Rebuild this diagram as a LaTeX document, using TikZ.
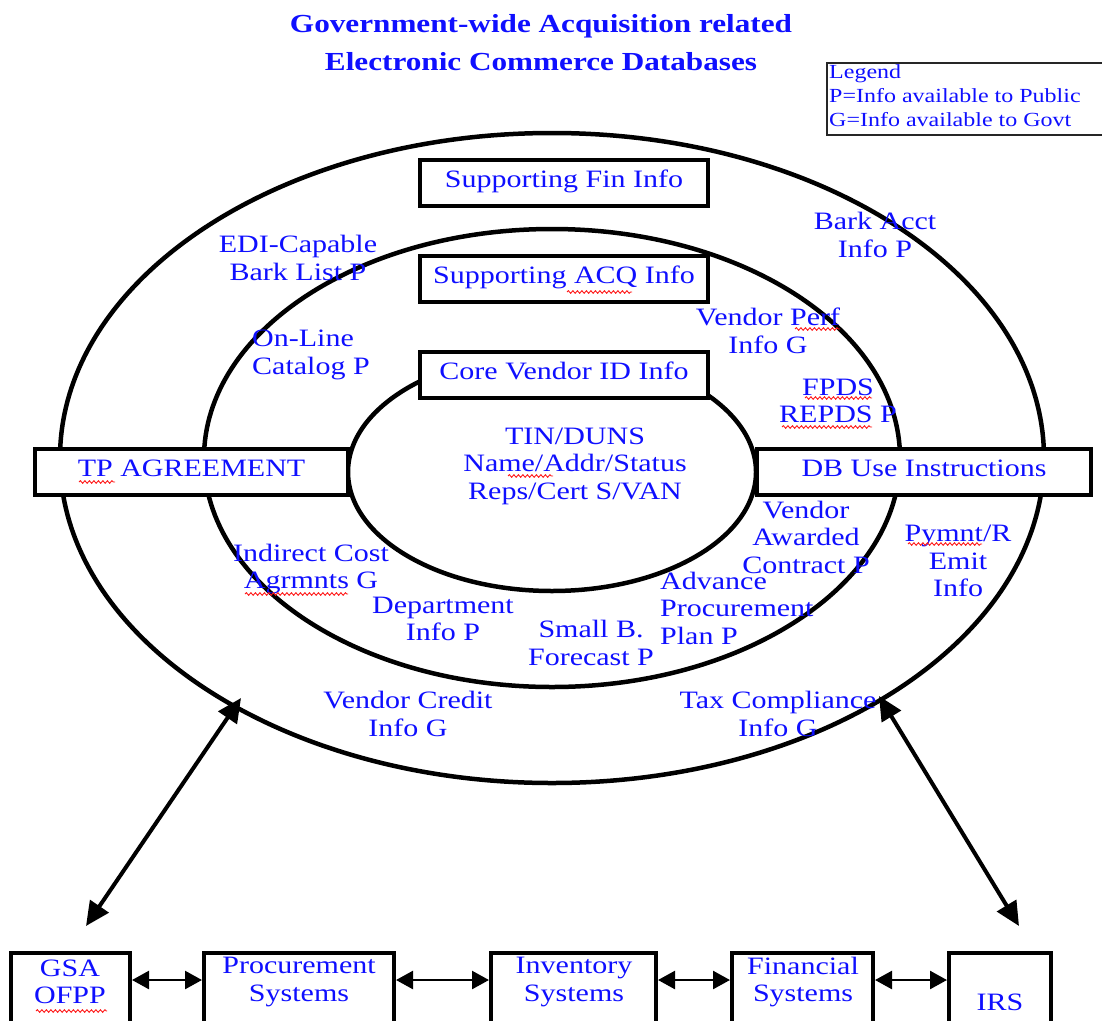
\documentclass[tikz,border=0pt]{standalone}
\usepackage{fontspec}
\setmainfont[FakeStretch=1.2]{Liberation Serif}
\usetikzlibrary{arrows.meta,decorations.pathmorphing}
\definecolor{txt}{RGB}{15,15,255}
\begin{document}
\begin{tikzpicture}[x=1pt,y=-1pt,
  ring/.style={draw, line width=4.5pt},
  bx/.style={draw, line width=4pt, fill=white, inner sep=0pt, text=txt,
    font=\fontsize{25}{27.5}\selectfont, text height=17pt, text depth=8pt},
  bbox/.style={draw, line width=4pt, fill=white, inner sep=0pt},
  lbl/.style={text=txt, font=\fontsize{25}{27.5}\selectfont, align=center, inner sep=0pt},
  lbll/.style={lbl, align=left},
  ttl/.style={text=txt, font=\fontsize{26}{38}\selectfont\bfseries, align=center, inner sep=0pt},
  leg/.style={text=txt, font=\fontsize{20}{24}\selectfont, align=left, inner sep=0pt},
  dbl/.style={line width=2.5pt, {Triangle[length=17pt,width=18pt]}-{Triangle[length=17pt,width=18pt]}},
  diag/.style={line width=4pt, {Triangle[length=24pt,width=22pt]}-{Triangle[length=24pt,width=22pt]}},
  squig/.style={draw=red!90, line width=0.9pt, decorate, decoration={snake, amplitude=1.3pt, segment length=4.5pt}}
]
\useasboundingbox (0,0) rectangle (1102,1020);
\fill[white] (0,0) rectangle (1102,1020);

% title
\node[ttl] (title) at (541,43) {Government-wide Acquisition related\\Electronic Commerce Databases};

% legend
\draw[line width=2pt, draw=black!85] (827,63) rectangle (1115,135);
\node[leg, anchor=north west] (legend) at (829,64) {Legend\\P=Info available to Public\\G=Info available to Govt};

% rings
\draw[ring] (552,458) ellipse [x radius=492pt, y radius=325pt];
\draw[ring] (552,458) ellipse [x radius=348pt, y radius=229pt];
\draw[ring] (552,472) ellipse [x radius=204pt, y radius=119pt];

% boxes
\node[bx, minimum width=288pt, minimum height=46pt] (fin) at (564,183) {Supporting Fin Info};
\node[bx, minimum width=288pt, minimum height=46pt] (acq) at (564,279) {Supporting ACQ Info};
\node[bx, minimum width=288pt, minimum height=46pt] (core) at (564,375) {Core Vendor ID Info};
\node[bx, minimum width=313pt, minimum height=46pt] (tp) at (191.5,472) {TP AGREEMENT};
\node[bx, minimum width=334pt, minimum height=46pt] (db) at (924,472) {DB Use Instructions};

% labels
\node[lbl] (edi) at (298,258) {EDI-Capable\\Bark List P};
\node[lbl] (bark) at (875,235) {Bark Acct\\Info P};
\node[lbll, anchor=west] (online) at (252,355) {On-Line\\Catalog P};
\node[lbl] (perf) at (768,331) {Vendor Perf\\Info G};
\node[lbl] (fpds) at (838,401) {FPDS\\REPDS P};
\node[lbl] (tin) at (575,466) {TIN/DUNS\\Name/Addr/Status\\Reps/Cert S/VAN};
\node[lbl] (award) at (806,537) {Vendor\\Awarded\\Contract P};
\node[lbl] (pymnt) at (958,561) {Pymnt/R\\Emit\\Info};
\node[lbl] (indirect) at (311,569) {Indirect Cost\\Agrmnts G};
\node[lbl] (dept) at (443,619) {Department\\Info P};
\node[lbl] (small) at (591,643) {Small B.\\Forecast P};
\node[lbll, anchor=west] (adv) at (660,608) {Advance\\Procurement\\Plan P};
\node[lbl] (credit) at (408,714) {Vendor Credit\\Info G};
\node[lbl] (tax) at (778,714) {Tax Compliance\\Info G};

% bottom boxes
\node[bbox, minimum width=119pt, minimum height=87pt] (gsa) at (70.5,996.5) {};
\node[bbox, minimum width=190pt, minimum height=87pt] (proc) at (299,996.5) {};
\node[bbox, minimum width=165pt, minimum height=87pt] (inv) at (573.5,996.5) {};
\node[bbox, minimum width=141pt, minimum height=87pt] (finsys) at (802.5,996.5) {};
\node[bbox, minimum width=102pt, minimum height=87pt] (irs) at (1000,996.5) {};

\node[lbl] (gsat) at (70,982) {GSA\\OFPP};
\node[lbl] (proct) at (299,982) {Procurement\\Systems};
\node[lbl] (invt) at (574,982) {Inventory\\Systems};
\node[lbl] (fint) at (803,982) {Financial\\Systems};
\node[lbl] (irst) at (1000,1002) {IRS};

% spell-check marks
\draw[squig] (567,292) -- (632,292);
\draw[squig] (795,329) -- (840,329);
\draw[squig] (805,398) -- (872,398);
\draw[squig] (782,427) -- (872,427);
\draw[squig] (79,482) -- (115,482);
\draw[squig] (508,476) -- (553,476);
\draw[squig] (245,594) -- (348,594);
\draw[squig] (908,544) -- (982,544);
\draw[squig] (36,1011) -- (107,1011);

% horizontal connectors
\coordinate (ar) at (0,980);
\draw[dbl] (gsa.east |- ar) -- (proc.west |- ar);
\draw[dbl] (proc.east |- ar) -- (inv.west |- ar);
\draw[dbl] (inv.east |- ar) -- (finsys.west |- ar);
\draw[dbl] (finsys.east |- ar) -- (irs.west |- ar);

% diagonal connectors
\coordinate (lt) at (241,698);
\coordinate (lb) at (86,926);
\coordinate (rt) at (879,696);
\coordinate (rb) at (1019,926);
\draw[diag] (lt) -- (lb);
\draw[diag] (rt) -- (rb);
\end{tikzpicture}
\end{document}
